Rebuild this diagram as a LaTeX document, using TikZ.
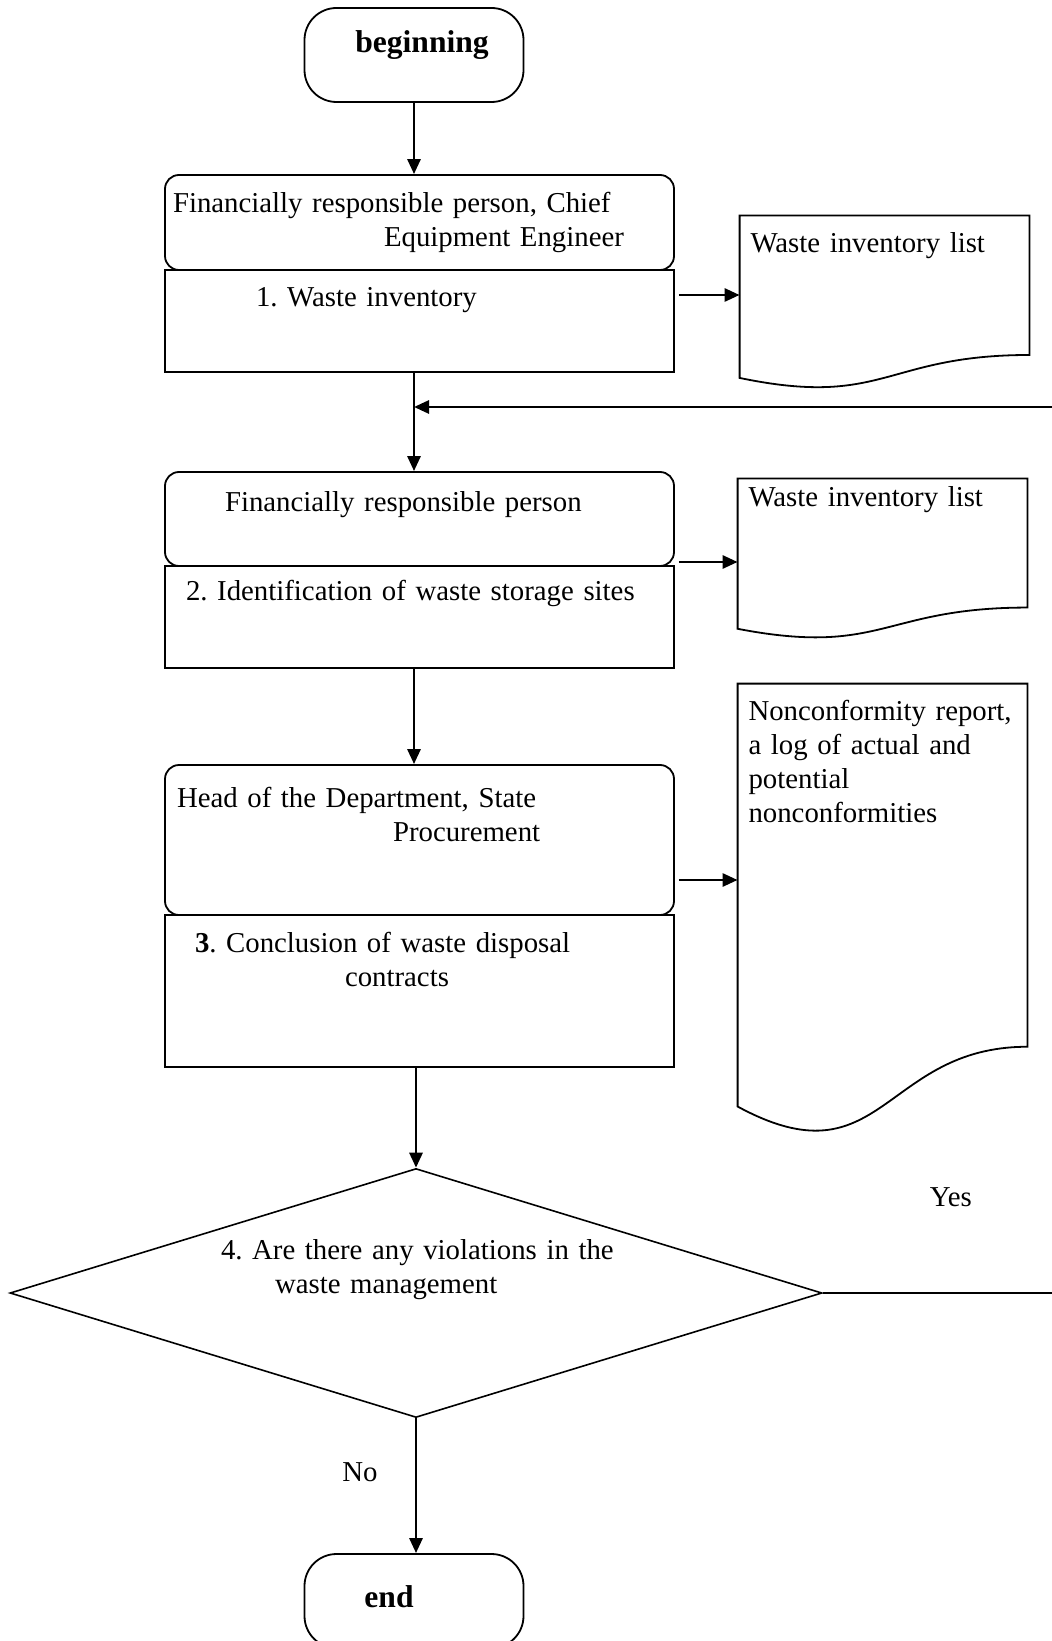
\documentclass[tikz,border=0pt]{standalone}
\usepackage{fontspec}
\setmainfont{Liberation Serif}
\usepackage{tikz}
\usetikzlibrary{shapes.geometric,arrows.meta,calc}

\hyphenpenalty=10000
\frenchspacing

\newcommand{\docoutline}[1]{%
	\draw[docline] (#1.north west) -- (#1.north east)
		-- ($(#1.north east)!0.802!(#1.south east)$)
		.. controls ($(#1.north)!0.802!(#1.south)$) and ($(#1.north)!1.1075!(#1.south)$)
		.. ($(#1.north west)!0.934!(#1.south west)$) -- cycle;}

\begin{document}
\begin{tikzpicture}[x=0.5pt, y=-0.5pt,
		every node/.style={inner sep=0pt, font=\fontsize{14.4pt}{17pt}\selectfont\frenchspacing},
		terminal/.style={draw, rounded corners=16pt, line width=0.9pt, minimum width=109.5pt, minimum height=47pt, font=\fontsize{15.8pt}{17pt}\selectfont\bfseries},
		role/.style={draw, rounded corners=7pt, line width=0.9pt, minimum width=254.5pt, text width=246.5pt, align=left, text height=0pt},
		task/.style={draw, line width=0.9pt, minimum width=254.5pt, text width=246.5pt, align=left, text height=0pt},
		record/.style={minimum width=144.5pt, text width=134pt, align=left, text height=0pt},
		docline/.style={line width=0.9pt},
		decision/.style={draw, shape=diamond, aspect=3.26, line width=0.8pt, minimum width=406pt, minimum height=124.5pt, text width=210pt, align=left, text height=0pt},
		flow/.style={line width=1.4pt, -{Triangle[length=7.5pt,width=6.5pt]}},
		plain/.style={line width=1.2pt}]
	
	\useasboundingbox (0,0) rectangle (1051,1641);
	
	\node[terminal, text height=0pt, text depth=2pt] (begin) at (414,55) {\hspace*{8pt}beginning};
	
	\node[task, minimum height=51pt, text depth=14pt] (step1) at (419.5,321) {\hspace*{41.5pt}1. Waste inventory};
	\node[role, minimum height=47.5pt, text depth=9.5pt] (role1) at (419.5,222.5) {Financially responsible person, Chief\\\hspace*{105.5pt}Equipment Engineer};
	
	\node[task, minimum height=51pt, text depth=17pt] (step2) at (419.5,617) {\hspace*{6.5pt}2. Identification of waste storage sites};
	\node[role, minimum height=47pt, text depth=7pt] (role2) at (419.5,519) {\hspace*{26pt}Financially responsible person};
	
	\node[task, minimum height=76pt, text depth=39pt] (step3) at (419.5,991) {\hspace*{11pt}\textbf{3}. Conclusion of waste disposal\\\hspace*{86pt}contracts};
	\node[role, minimum height=75pt, text depth=33pt] (role3) at (419.5,840) {\hspace*{2pt}Head of the Department, State\\\hspace*{110pt}Procurement};
	
	\node[record, minimum height=86.5pt, text depth=49.5pt] (doc1) at (884.5,302.5) {Waste inventory list};
	\node[record, minimum height=80pt, text depth=52pt] (doc2) at (882.5,559) {Waste inventory list};
	\node[record, minimum height=226pt, text depth=190pt] (doc3) at (882.5,910) {\mbox{Nonconformity report,}\\a log of actual and\\potential\\nonconformities};
	\docoutline{doc1}
	\docoutline{doc2}
	\docoutline{doc3}
	
	\node[decision, text depth=34pt] (check) at (416,1293) {\hspace*{7.5pt}4. Are there any violations in the\\\hspace*{34.5pt}waste management};
	
	\node[terminal, text height=6pt, text depth=0pt] (stop) at (414,1601) {end\hspace*{25pt}};
	
	\coordinate (loop) at (1060,407);
	\coordinate (yesend) at (1060,1293);
	
	\path[flow] (begin.south) edge (begin.south |- role1.north);
	\path[flow] (begin.south |- step1.south) edge (begin.south |- role2.north);
	\path[flow] (loop) edge (loop -| begin.south);
	\path[flow] (begin.south |- step2.south) edge (begin.south |- role3.north);
	\path[flow] (check.north |- step3.south) edge (check.north);
	\path[flow] (check.south) edge node[pos=0.4, xshift=-28pt] (no) {No} (check.south |- stop.north);
	
	\path[flow] ([xshift=2pt]step1.east |- 0,295) edge (doc1.west |- 0,295);
	\path[flow] ([xshift=2pt]role2.east |- 0,562) edge (doc2.west |- 0,562);
	\path[flow] ([xshift=2pt]role3.east |- 0,880) edge (doc3.west |- 0,880);
	
	\path[plain] (check.east) edge node[pos=0.54, yshift=48pt] (yes) {Yes} (yesend);
	
\end{tikzpicture}
\end{document}
